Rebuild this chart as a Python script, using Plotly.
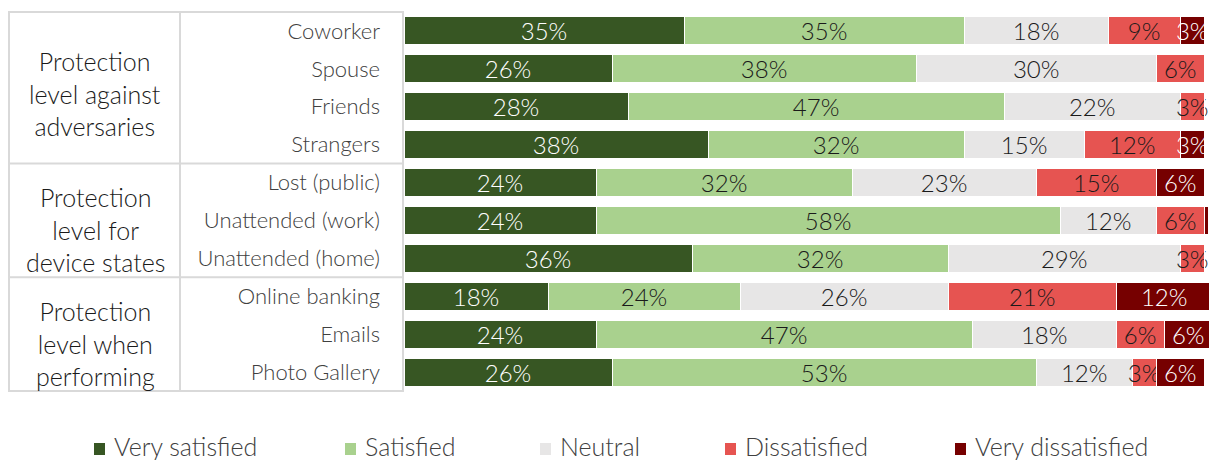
import plotly.graph_objects as go

# Survey rows (top to bottom) and their answer shares in percent
rows = ["Coworker", "Spouse", "Friends", "Strangers",
        "Lost (public)", "Unattended (work)", "Unattended (home)",
        "Online banking", "Emails", "Photo Gallery"]

very_satisfied    = [35, 26, 28, 38, 24, 24, 36, 18, 24, 26]
satisfied         = [35, 38, 47, 32, 32, 58, 32, 24, 47, 53]
neutral           = [18, 30, 22, 15, 23, 12, 29, 26, 18, 12]
dissatisfied      = [9, 6, 3, 12, 15, 6, 3, 21, 6, 3]
very_dissatisfied = [3, 0, 0, 3, 6, 0.5, 0, 12, 6, 6]

series_names = ["Very satisfied", "Satisfied", "Neutral", "Dissatisfied", "Very dissatisfied"]

groups = ["Protection<br>level against<br>adversaries",
          "Protection<br>level for<br>device states",
          "Protection<br>level when<br>performing"]
group_rows = [(0, 3), (4, 6), (7, 9)]

colors = ["#375623", "#a9d18e", "#e7e6e6", "#e65451", "#760000"]
text_colors = ["#ffffff", "#1a1a1a", "#1a1a1a", "#1a1a1a", "#ffffff"]

FONT = "Lato"
W, H = 1210, 460
L, R, T, B = 404, 1, 11, 68
PW = W - L - R


def px_x(px):
    """Horizontal pixel position -> paper coordinate."""
    return (px - L) / PW


def px_y(py):
    """Vertical pixel position -> paper coordinate."""
    return 1 - (py - T) / (H - T - B)


fig = go.Figure()
for name, vals, col, tcol in zip(series_names,
                                 [very_satisfied, satisfied, neutral, dissatisfied, very_dissatisfied],
                                 colors, text_colors):
    fig.add_trace(go.Bar(
        y=rows, x=vals, name=name, orientation="h",
        marker=dict(color=col, line=dict(color="#ffffff", width=1)),
        text=[f"{v:g}%" if v >= 1 else "" for v in vals],
        textposition="inside", insidetextanchor="middle",
        constraintext="none", textangle=0,
        textfont=dict(family=FONT, size=24, weight=300, color=tcol),
        hoverinfo="skip", showlegend=False, cliponaxis=True,
    ))

# Table frame around the row and group labels
line = dict(color="#d9d9d9", width=2)
shapes = [
    dict(type="rect", xref="paper", yref="y", x0=px_x(9), x1=px_x(403),
         y0=-0.5, y1=len(rows) - 0.5, line=line, layer="below"),
    dict(type="line", xref="paper", yref="y", x0=px_x(180), x1=px_x(180),
         y0=-0.5, y1=len(rows) - 0.5, line=line, layer="below"),
]
for a, b in group_rows[:-1]:
    shapes.append(dict(type="line", xref="paper", yref="y", x0=px_x(9), x1=px_x(403),
                       y0=b + 0.5, y1=b + 0.5, line=line, layer="below"))

annotations = []
for label, (a, b), shift in zip(groups, group_rows, [-6, -9, -9]):
    annotations.append(dict(
        text=label, xref="paper", yref="y", x=px_x(95), y=(a + b) / 2,
        xanchor="center", yanchor="middle",
        yshift=shift, showarrow=False, align="center",
        font=dict(family=FONT, size=25, weight=300, color="#1a1a1a"),
    ))

# Legend drawn as swatches with labels along the bottom
legend_x = [94, 345, 540, 725, 955]
for name, col, x0 in zip(series_names, colors, legend_x):
    shapes.append(dict(type="rect", xref="paper", yref="paper",
                       x0=px_x(x0), x1=px_x(x0 + 11), y0=px_y(455), y1=px_y(443),
                       fillcolor=col, line=dict(width=0)))
    annotations.append(dict(
        text=name, xref="paper", yref="paper", x=px_x(x0 + 18), y=px_y(446),
        xanchor="left", yanchor="middle", showarrow=False,
        font=dict(family=FONT, size=25, weight=300, color="#404040"),
    ))

fig.update_layout(
    width=W, height=H,
    margin=dict(l=L, r=R, t=T, b=B),
    barmode="stack", bargap=0.26,
    plot_bgcolor="#ffffff", paper_bgcolor="#ffffff",
    showlegend=False,
    shapes=shapes, annotations=annotations,
    xaxis=dict(range=[0, 100.6], visible=False, fixedrange=True),
    yaxis=dict(autorange="reversed", categoryorder="array", categoryarray=rows,
               showgrid=False, zeroline=False, showline=False, ticks="",
               ticklabelstandoff=23,
               tickfont=dict(family=FONT, size=22, weight=300, color="#404040")),
)

fig.write_html("out.html")
